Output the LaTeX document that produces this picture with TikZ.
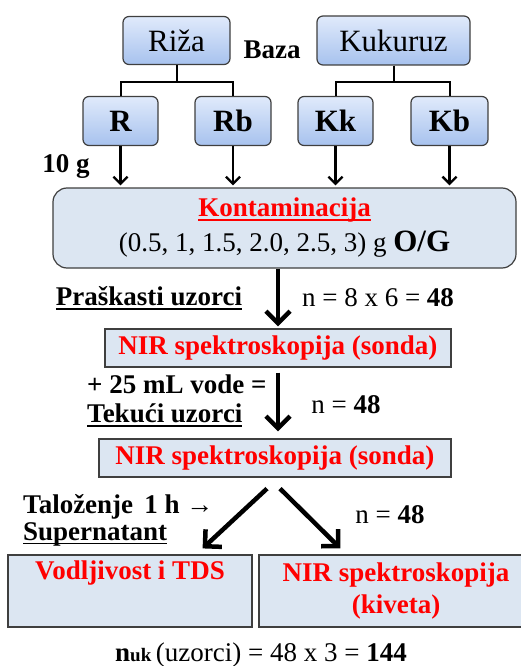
\documentclass[tikz,border=0pt]{standalone}
\usepackage{fontspec}
\setmainfont{Liberation Serif}
\usetikzlibrary{arrows.meta,calc,positioning}
\definecolor{boxfill}{HTML}{DCE6F2}
\definecolor{boxline}{HTML}{3F3F3F}
\definecolor{topcol}{HTML}{E0EAFB}
\definecolor{botcol}{HTML}{A7C2EE}
% underline with a thicker rule
\newcommand{\undr}[1]{\setbox0\hbox{#1}\rlap{\rule[-4pt]{\wd0}{1.6pt}}\box0}
\tikzset{
  grainbox/.style={draw=boxline, line width=1.2pt, rounded corners=6pt,
    top color=topcol, bottom color=botcol, inner sep=0pt,
    font=\fontsize{31}{36}\selectfont},
  stepbox/.style={draw=boxline, line width=1.2pt, fill=boxfill, inner sep=0pt,
    align=center, text=red, font=\fontsize{27}{32}\selectfont\bfseries},
  lbl/.style={inner sep=0pt, font=\fontsize{27}{29}\selectfont},
  tree/.style={line width=2pt},
  thinarrow/.style={line width=2.4pt, -{Straight Barb[length=7pt,width=14pt]}},
  thickarrow/.style={line width=4.5pt, -{Straight Barb[length=12pt,width=24pt]}}
}
\begin{document}
\begin{tikzpicture}[x=1pt,y=-1pt]
  \clip (0,0) rectangle (521,666);
  %raw materials
  \node[grainbox, minimum width=107, minimum height=48] (riza) at (176.5,40.5) {Riža};
  \node[grainbox, minimum width=153, minimum height=49] (kukuruz) at (393.5,40.5) {Kukuruz};
  \node[lbl, font=\fontsize{27}{29}\selectfont\bfseries] (baza) at (272,50) {Baza};
  %samples
  \node[grainbox, font=\fontsize{31}{36}\selectfont\bfseries, minimum width=75, minimum height=49] (r) at (120.5,121) {R};
  \node[grainbox, font=\fontsize{31}{36}\selectfont\bfseries, minimum width=76, minimum height=49] (rb) at (233,121) {Rb};
  \node[grainbox, font=\fontsize{31}{36}\selectfont\bfseries, minimum width=75, minimum height=49] (kk) at (335.5,121) {Kk};
  \node[grainbox, font=\fontsize{31}{36}\selectfont\bfseries, minimum width=77, minimum height=49] (kb) at (449.5,121) {Kb};
  %tree lines
  \draw[tree] (riza.south) -- ++(0,17) -| (r.north);
  \draw[tree] (riza.south) -- ++(0,17) -| (rb.north);
  \draw[tree] (kukuruz.south) -- ++(0,16) -| (kk.north);
  \draw[tree] (kukuruz.south) -- ++(0,16) -| (kb.north);
  \node[lbl, font=\fontsize{27}{29}\selectfont\bfseries] (deset) at (66,167) {10 g};
  %contamination
  \node[stepbox, text=black, font=\fontsize{27}{35}\selectfont, rounded corners=14pt,
    minimum width=463, minimum height=80] (kont) at (284.5,228)
    {{\bfseries\color{red}\undr{Kontaminacija}}\\(0.5, 1, 1.5, 2.0, 2.5, 3) g {\fontsize{31}{32}\selectfont\bfseries O/G}};
  \foreach \s in {r,rb,kk,kb}
    \draw[thinarrow] (\s.south) -- ($(\s.south |- kont.north)+(0,-2)$);
  %powder samples
  \node[stepbox, minimum width=346, minimum height=38] (nir1) at (278,348) {NIR spektroskopija (sonda)};
  \draw[thickarrow] (nir1.north |- kont.south) -- ($(nir1.north)+(0,-2)$);
  \node[lbl, font=\fontsize{27}{29}\selectfont\bfseries] (prask) at (149,298) {\undr{Praškasti uzorci}};
  \node[lbl] (n1) at (378,298) {n = 8 x 6 = \textbf{48}};
  %liquid samples
  \node[stepbox, minimum width=352, minimum height=38] (nir2) at (275,458) {NIR spektroskopija (sonda)};
  \draw[thickarrow] ($(nir1.south)+(0,5)$) -- ($(nir1.south |- nir2.north)+(0,-7)$);
  \node[lbl, font=\fontsize{27}{29}\selectfont\bfseries, align=left, anchor=west] (voda) at (87,401)
    {+ 25 mL vode =\\\undr{Tekući uzorci}};
  \node[lbl] (n2) at (346,405) {n = \textbf{48}};
  %supernatant
  \node[stepbox, minimum width=244, minimum height=72] (vod) at (130,591) {Vodljivost i TDS\\\strut};
  \node[stepbox, minimum width=274, minimum height=72] (kiv) at (396,591) {NIR spektroskopija\\(kiveta)};
  \draw[thickarrow] ($(nir2.south)+(-8,11)$) -- ($(vod.north east)+(-50,-6)$);
  \draw[thickarrow] ($(nir2.south)+(5,11)$) -- ($(kiv.north west)+(82,-6)$);
  \node[lbl, font=\fontsize{27}{27}\selectfont\bfseries, align=left, anchor=west] (talog) at (23,520)
    {Taloženje\, 1 h {\mdseries →}\\\undr{Supernatant}};
  \node[lbl] (n3) at (390,515) {n = \textbf{48}};
  %total
  \node[lbl] (ukupno) at (261,655)
    {\textbf{n}{\fontsize{19}{20}\selectfont\bfseries uk}\,(uzorci) = 48 x 3 = \textbf{144}};
\end{tikzpicture}
\end{document}
